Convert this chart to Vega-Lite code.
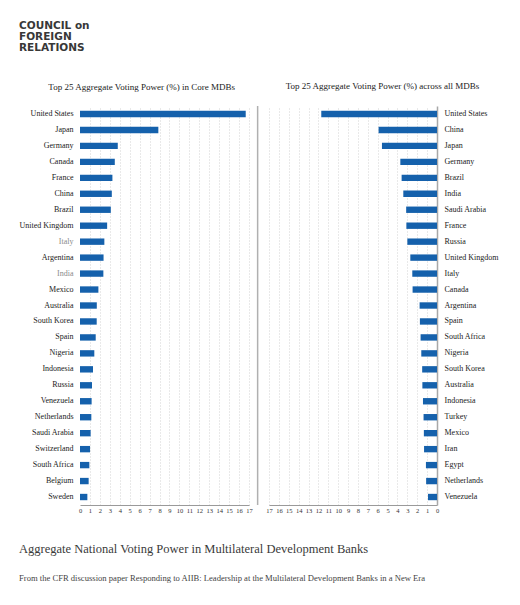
{
  "$schema": "https://vega.github.io/schema/vega-lite/v6.json",
  "padding": {"left": 19, "top": 20, "right": 5, "bottom": 5},
  "title": {
    "text": ["COUNCIL on", "FOREIGN", "RELATIONS"],
    "anchor": "start",
    "font": "DejaVu Sans",
    "fontSize": 10.5,
    "fontWeight": "bold",
    "color": "#383838",
    "lineHeight": 11,
    "offset": 29
  },
  "datasets": {
    "core": [
      {"country": "United States", "power": 16.67},
      {"country": "Japan", "power": 7.88},
      {"country": "Germany", "power": 3.8},
      {"country": "Canada", "power": 3.5},
      {"country": "France", "power": 3.26},
      {"country": "China", "power": 3.2},
      {"country": "Brazil", "power": 3.1},
      {"country": "United Kingdom", "power": 2.73},
      {"country": "Italy", "power": 2.45},
      {"country": "Argentina", "power": 2.37},
      {"country": "India", "power": 2.35},
      {"country": "Mexico", "power": 1.85},
      {"country": "Australia", "power": 1.69},
      {"country": "South Korea", "power": 1.68},
      {"country": "Spain", "power": 1.58},
      {"country": "Nigeria", "power": 1.44},
      {"country": "Indonesia", "power": 1.31},
      {"country": "Russia", "power": 1.21},
      {"country": "Venezuela", "power": 1.17},
      {"country": "Netherlands", "power": 1.14},
      {"country": "Saudi Arabia", "power": 1.07},
      {"country": "Switzerland", "power": 1.01},
      {"country": "South Africa", "power": 0.94},
      {"country": "Belgium", "power": 0.87},
      {"country": "Sweden", "power": 0.74}
    ],
    "all": [
      {"country": "United States", "power": 11.71},
      {"country": "China", "power": 5.91},
      {"country": "Japan", "power": 5.57},
      {"country": "Germany", "power": 3.71},
      {"country": "Brazil", "power": 3.58},
      {"country": "India", "power": 3.41},
      {"country": "Saudi Arabia", "power": 3.12},
      {"country": "France", "power": 3.1},
      {"country": "Russia", "power": 3.0},
      {"country": "United Kingdom", "power": 2.7},
      {"country": "Italy", "power": 2.5},
      {"country": "Canada", "power": 2.47},
      {"country": "Argentina", "power": 1.76},
      {"country": "Spain", "power": 1.73},
      {"country": "South Africa", "power": 1.66},
      {"country": "Nigeria", "power": 1.59},
      {"country": "South Korea", "power": 1.5},
      {"country": "Australia", "power": 1.48},
      {"country": "Indonesia", "power": 1.42},
      {"country": "Turkey", "power": 1.36},
      {"country": "Mexico", "power": 1.33},
      {"country": "Iran", "power": 1.31},
      {"country": "Egypt", "power": 1.12},
      {"country": "Netherlands", "power": 1.1},
      {"country": "Venezuela", "power": 0.91}
    ]
  },
  "vconcat": [
    {
      "title": {
        "text": "Aggregate National Voting Power in Multilateral Development Banks",
        "subtitle": "From the CFR discussion paper Responding to AIIB: Leadership at the Multilateral Development Banks in a New Era",
        "orient": "bottom",
        "anchor": "start",
        "font": "Liberation Serif",
        "fontSize": 12.5,
        "fontWeight": "normal",
        "color": "#3a3a3a",
        "subtitleFont": "Liberation Serif",
        "subtitleFontSize": 8.6,
        "subtitleColor": "#444",
        "subtitlePadding": 19,
        "offset": 29
      },
      "spacing": 3,
      "hconcat": [
        {
          "width": 169,
          "height": 399,
          "title": {
            "text": "Top 25 Aggregate Voting Power (%) in Core MDBs",
            "frame": "bounds",
            "anchor": "middle",
            "dx": 6,
            "font": "Liberation Serif",
            "fontSize": 9,
            "fontWeight": "normal",
            "color": "#222",
            "offset": 14
          },
          "data": {"name": "core"},
          "mark": {"type": "bar", "color": "#1561ac", "height": {"band": 0.4}},
          "encoding": {
            "y": {
              "field": "country",
              "type": "nominal",
              "sort": "-x",
              "title": null,
              "scale": {"paddingInner": 0, "paddingOuter": 0},
              "axis": {
                "domain": false,
                "ticks": false,
                "labelPadding": 7,
                "labelFontSize": 8,
                "labelColor": {
                  "condition": {"test": "datum.value == 'Italy' || datum.value == 'India'", "value": "#8a8a8a"},
                  "value": "#222"
                }
              }
            },
            "x": {
              "field": "power",
              "type": "quantitative",
              "title": null,
              "scale": {"domain": [0, 17], "nice": false},
              "axis": {
                "values": [0, 1, 2, 3, 4, 5, 6, 7, 8, 9, 10, 11, 12, 13, 14, 15, 16, 17],
                "grid": true,
                "gridDash": [1, 2],
                "gridColor": {
                  "condition": {"test": "datum.value == 0", "value": "transparent"},
                  "value": "#d2d2d2"
                },
                "ticks": false,
                "domainColor": "#9a9a9a",
                "labelFontSize": 6.5,
                "labelPadding": 2,
                "labelColor": "#333",
                "labelFlush": false,
                "labelOverlap": false
              }
            }
          }
        },
        {
          "width": 168,
          "height": 399,
          "title": {
            "text": "Top 25 Aggregate Voting Power (%) across all MDBs",
            "frame": "bounds",
            "anchor": "middle",
            "dx": 5,
            "font": "Liberation Serif",
            "fontSize": 9,
            "fontWeight": "normal",
            "color": "#222",
            "offset": 14
          },
          "resolve": {"axis": {"x": "independent", "y": "independent"}},
          "layer": [
            {
              "data": {"name": "all"},
              "mark": {"type": "bar", "color": "#1561ac", "height": {"band": 0.4}},
              "encoding": {
                "y": {
                  "field": "country",
                  "type": "nominal",
                  "sort": "-x",
                  "title": null,
                  "scale": {"paddingInner": 0, "paddingOuter": 0},
                  "axis": {
                    "orient": "right",
                    "domain": true,
                    "domainColor": "#a8a8a8",
                    "domainWidth": 1.5,
                    "ticks": false,
                    "labelPadding": 7,
                    "labelFontSize": 8,
                    "labelColor": "#222"
                  }
                },
                "x": {
                  "field": "power",
                  "type": "quantitative",
                  "title": null,
                  "scale": {"domain": [0, 17], "nice": false, "reverse": true},
                  "axis": {
                    "values": [0, 1, 2, 3, 4, 5, 6, 7, 8, 9, 10, 11, 12, 13, 14, 15, 16, 17],
                    "grid": true,
                    "gridDash": [1, 2],
                    "gridColor": {
                      "condition": {"test": "datum.value == 0", "value": "transparent"},
                      "value": "#d2d2d2"
                    },
                    "ticks": false,
                    "domainColor": "#9a9a9a",
                    "labelFontSize": 6.5,
                    "labelPadding": 2,
                    "labelColor": "#333",
                    "labelFlush": false,
                    "labelOverlap": false
                  }
                }
              }
            },
            {
              "data": {"values": [{}]},
              "mark": {"type": "rule", "color": "#b0b0b0", "strokeWidth": 1.5},
              "encoding": {
                "x": {"datum": 18.15, "type": "quantitative", "axis": null}
              }
            }
          ]
        }
      ]
    }
  ],
  "config": {
    "font": "Liberation Serif",
    "view": {"stroke": null},
    "axis": {"labelFont": "Liberation Serif"}
  }
}
